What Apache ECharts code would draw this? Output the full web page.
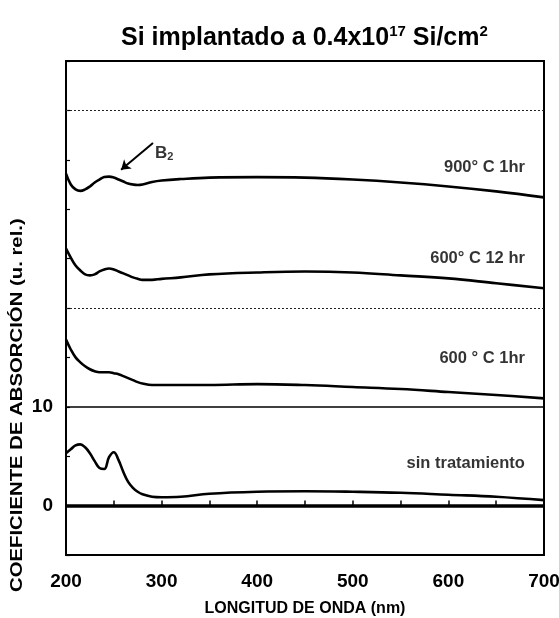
<!DOCTYPE html>
<html>
<head>
<meta charset="utf-8">
<script src="https://cdn.jsdelivr.net/npm/echarts@6/dist/echarts.min.js"></script>
<style>
  html, body { margin: 0; padding: 0; background: #fff; }
  #main { width: 559px; height: 618px; }
</style>
</head>
<body>
<div id="main"></div>
<script>
// longitud de onda (nm), same sampling for all four curves
var wavelength = [200, 205, 210, 215, 220, 225, 230, 235, 240, 245, 250, 255, 260, 265, 270, 275, 280, 290, 300, 320, 350, 400, 450, 500, 550, 600, 650, 700];

var sinTratamiento = [5.3, 5.7, 6.1, 6.2, 5.9, 5.3, 4.5, 3.8, 3.7, 4.9, 5.4, 4.6, 3.4, 2.4, 1.8, 1.4, 1.15, 0.9, 0.85, 0.9, 1.2, 1.4, 1.45, 1.4, 1.3, 1.1, 0.9, 0.55];
var c600_1hr = [16.8, 15.8, 15.0, 14.5, 14.1, 13.8, 13.6, 13.5, 13.5, 13.5, 13.4, 13.3, 13.1, 12.9, 12.7, 12.5, 12.35, 12.2, 12.2, 12.2, 12.2, 12.3, 12.2, 12.0, 11.8, 11.5, 11.2, 10.85];
var c600_12hr = [26.0, 25.1, 24.3, 23.8, 23.4, 23.3, 23.4, 23.7, 23.9, 24.0, 23.9, 23.7, 23.5, 23.3, 23.1, 22.95, 22.85, 22.85, 22.95, 23.1, 23.4, 23.6, 23.7, 23.6, 23.3, 23.0, 22.5, 22.0];
var c900_1hr = [33.6, 32.5, 32.0, 31.85, 32.0, 32.3, 32.7, 33.0, 33.25, 33.3, 33.2, 33.0, 32.8, 32.6, 32.5, 32.45, 32.5, 32.75, 32.9, 33.05, 33.2, 33.25, 33.2, 33.0, 32.7, 32.3, 31.8, 31.2];

var curveNames = ['sin tratamiento', '600 ° C 1hr', '600° C 12 hr', '900° C 1hr'];
var gridValues = [10, 20, 40];
var yLabels = [0, 10];

// where the curve names and the B2 mark sit (data coords)
var labelX = 680;
var labelY = [4.3, 14.9, 25.0, 34.2];
var b2Arrow = [[291, 36.7], [257.6, 34.0]];
var b2Label = [293, 35.7];

function pairs(ys) {
    var out = [];
    for (var i = 0; i < wavelength.length; i++) {
        out.push([wavelength[i], ys[i]]);
    }
    return out;
}

var font = 'Liberation Sans, Arial, sans-serif';

var curveSeries = [sinTratamiento, c600_1hr, c600_12hr, c900_1hr].map(function (ys, i) {
    return {
        name: curveNames[i],
        type: 'line',
        data: pairs(ys),
        smooth: 0.4,
        showSymbol: false,
        lineStyle: { color: '#000', width: 2.6 },
        z: 3
    };
});

var guideLines = [];
gridValues.forEach(function (v) {
    guideLines.push({
        yAxis: v,
        lineStyle: v === 10 ? { color: '#000', width: 1.6, type: 'solid' } : { color: '#222', width: 1.2, type: [2, 2] }
    });
});
guideLines.push({ yAxis: 0, lineStyle: { color: '#000', width: 3.5, type: 'solid' } });
guideLines.push([
    { coord: b2Arrow[0], symbol: 'none' },
    { coord: b2Arrow[1], symbol: 'arrow', symbolSize: 9, lineStyle: { color: '#000', width: 2, type: 'solid' } }
]);

var guides = {
    type: 'line',
    data: [],
    silent: true,
    markLine: {
        silent: true,
        symbol: 'none',
        label: { show: false },
        animation: false,
        data: guideLines
    }
};

var textPoints = curveNames.map(function (n, i) {
    return { value: [labelX, labelY[i]], label: { formatter: n, position: 'left', distance: 0 } };
});
textPoints.push({
    value: b2Label,
    label: { formatter: 'B{sub|2}', position: 'right', distance: 0, fontSize: 17 }
});

var texts = {
    type: 'scatter',
    symbolSize: 0,
    silent: true,
    data: textPoints,
    label: {
        show: true,
        color: '#000',
        fontFamily: font,
        fontWeight: 'bold',
        fontSize: 16.5,
        rich: {
            sub: { fontSize: 11, fontWeight: 'bold', fontFamily: font, color: '#000', verticalAlign: 'bottom', padding: [9, 0, 0, 0] }
        }
    },
    z: 5
};

var option = {
    animation: false,
    backgroundColor: '#fff',
    title: {
        text: 'Si implantado a 0.4x10{sup|17} Si/cm{sup|2}',
        left: 116,
        top: 19,
        textStyle: {
            fontFamily: font,
            fontWeight: 'bold',
            fontSize: 25,
            color: '#000',
            rich: {
                sup: { fontFamily: font, fontWeight: 'bold', fontSize: 15, color: '#000', verticalAlign: 'top', padding: [0, 0, 13, 0] }
            }
        }
    },
    grid: {
        left: 66, right: 15, top: 61, bottom: 63,
        outerBoundsMode: 'none',
        show: true, borderColor: '#000', borderWidth: 2
    },
    xAxis: {
        type: 'value',
        min: 200, max: 700, interval: 50,
        name: 'LONGITUD DE ONDA (nm)',
        nameLocation: 'middle',
        nameGap: 46,
        nameTextStyle: { fontFamily: font, fontWeight: 'bold', fontSize: 16, color: '#000' },
        axisLine: { lineStyle: { color: '#000', width: 2 } },
        axisTick: { inside: true, length: 5, lineStyle: { color: '#000', width: 1.5 } },
        axisLabel: {
            fontFamily: font, fontWeight: 'bold', fontSize: 19, color: '#000', margin: 17,
            formatter: function (v) { return v % 100 === 0 ? String(v) : ''; }
        },
        splitLine: { show: false }
    },
    yAxis: {
        type: 'value',
        min: -5, max: 45, interval: 5,
        axisLine: { lineStyle: { color: '#000', width: 2 } },
        axisTick: { inside: true, length: 4, lineStyle: { color: '#000', width: 1.2 } },
        axisLabel: {
            fontFamily: font, fontWeight: 'bold', fontSize: 19, color: '#000', margin: 13,
            formatter: function (v) { return yLabels.indexOf(v) >= 0 ? String(v) : ''; }
        },
        splitLine: { show: false }
    },
    graphic: [{
        type: 'text',
        x: 18,
        y: 592,
        rotation: Math.PI / 2,
        scaleX: 1.27,
        style: {
            text: 'COEFICIENTE DE ABSORCIÓN (u. rel.)',
            x: 0,
            y: 0,
            textAlign: 'left',
            textVerticalAlign: 'middle',
            fontFamily: font,
            fontWeight: 'bold',
            fontSize: 16,
            fill: '#000'
        }
    }],
    series: curveSeries.concat([guides, texts])
};

var setSize = function () {
    var main = document.getElementById('main');
    main.style.height = '618px';
};
setSize();
var chart = echarts.init(document.getElementById('main'));
chart.setOption(option);
</script>
</body>
</html>
